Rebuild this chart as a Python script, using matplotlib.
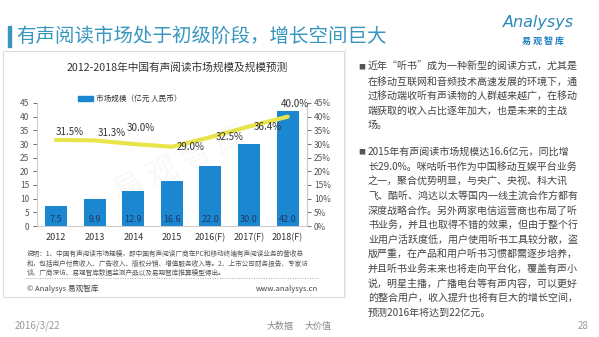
import matplotlib
matplotlib.use('Agg')
import matplotlib.pyplot as plt
from matplotlib.patches import Rectangle
from matplotlib.lines import Line2D

plt.rcParams['font.family'] = ['Noto Sans CJK SC', 'DejaVu Sans']

# data
years = ['2012', '2013', '2014', '2015', '2016(F)', '2017(F)', '2018(F)']
market_size = [7.5, 9.9, 12.9, 16.6, 22.0, 30.0, 42.0]
growth_rate = [31.5, 31.3, 30.0, 29.0, 32.5, 36.4, 40.0]
left_ticks = [0, 5, 10, 15, 20, 25, 30, 35, 40, 45]
right_ticks = [0, 5, 10, 15, 20, 25, 30, 35, 40, 45]

slide_title = '有声阅读市场处于初级阶段，增长空间巨大'
chart_title = '2012-2018年中国有声阅读市场规模及规模预测'
legend_label = '市场规模（亿元 人民币）'
note_lines = [
    '说明：1、中国有声阅读市场规模，即中国有声阅读厂商在PC和移动终端有声阅读业务的营收总',
    '和，包括用户付费收入、广告收入、版权分销、增值服务收入等。2、上市公司财务报告、专家访',
    '谈、厂商深访、易观智库数据监测产品以及易观智库推算模型得出。',
]
bullet1 = [
    '近年“听书”成为一种新型的阅读方式，尤其是',
    '在移动互联网和音频技术高速发展的环境下，通',
    '过移动端收听有声读物的人群越来越广，在移动',
    '端获取的收入占比逐年加大，也是未来的主战',
    '场。',
]
bullet2 = [
    '2015年有声阅读市场规模达16.6亿元，同比增',
    '长29.0%。咪咕听书作为中国移动互娱平台业务',
    '之一，聚合优势明显，与央广、央视、科大讯',
    '飞、酷听、鸿达以太等国内一线主流合作方都有',
    '深度战略合作。另外两家电信运营商也布局了听',
    '书业务，并且也取得不错的效果，但由于整个行',
    '业用户活跃度低，用户使用听书工具较分散，盗',
    '版严重，在产品和用户听书习惯都需逐步培养，',
    '并且听书业务未来也将走向平台化，覆盖有声小',
    '说，明星主播，广播电台等有声内容，可以更好',
    '的整合用户，收入提升也将有巨大的增长空间，',
    '预测2016年将达到22亿元。',
]

W, H = 599, 337
fig = plt.figure(figsize=(W / 100, H / 100), dpi=100)
fig.patch.set_facecolor('white')


def fx(x):
    return x / W


def fy(y):
    return 1 - y / H


# slide title
fig.add_artist(Rectangle((fx(8), fy(47)), 3 / W, 21 / H, color='#3796bd',
                         transform=fig.transFigure))
fig.text(fx(16), fy(36), slide_title, fontsize=14, color='#3796bd', va='center')

# logo
fig.text(fx(538), fy(22), 'Analysys', fontsize=11.5, style='italic',
         color='#2a8ab8', ha='center', va='center', family='DejaVu Sans')
fig.text(fx(543), fy(41), '易 观 智 库', fontsize=6.5, fontweight='bold',
         color='#1a7fc0', ha='center', va='center')

# chart panel
fig.add_artist(Rectangle((fx(3), fy(297)), 341 / W, 246 / H, fill=False,
                         edgecolor='#dddddd', lw=0.8, transform=fig.transFigure))
fig.text(fx(177), fy(67), chart_title, fontsize=7.7, color='#333333',
         ha='center', va='center')

ax = fig.add_axes([fx(36.7), fy(226), 270.3 / W, 123 / H])
x = range(len(years))
ax.bar(x, market_size, width=0.57, color='#1b87d0', label=legend_label, zorder=2)
ax.set_xlim(-0.5, len(years) - 0.5)
ax.set_ylim(0, 45)
ax.set_yticks(left_ticks)
ax.set_xticks(list(x))
ax.set_xticklabels(years, fontsize=6.5, color='#333333', fontweight='light')
ax.tick_params(axis='x', length=0, pad=5)
ax.tick_params(axis='y', labelsize=6, colors='#555555', length=3, width=0.6, pad=2.5)
ax.spines['top'].set_visible(False)
for s in ['left', 'bottom', 'right']:
    ax.spines[s].set_color('#cccccc')
    ax.spines[s].set_linewidth(0.8)
for xi, v in zip(x, market_size):
    ax.text(xi, 0.8, f'{v:.1f}', ha='center', va='bottom', fontsize=6.5, color='#203864')

ax2 = ax.twinx()
ax2.plot(list(x), growth_rate, color='#e8e54a', lw=3, solid_capstyle='round', zorder=3)
ax2.set_ylim(0, 45)
ax2.set_yticks(right_ticks)
ax2.set_yticklabels([f'{t}%' for t in right_ticks])
ax2.tick_params(axis='y', labelsize=6, colors='#555555', length=3, width=0.6, pad=2)
for s in ['top', 'left', 'bottom']:
    ax2.spines[s].set_visible(False)
ax2.spines['right'].set_color('#cccccc')
ax2.spines['right'].set_linewidth(0.8)
label_offsets = [(14, 8), (17, 7), (7, 16), (19, 0), (19, 0), (19, 0), (7, 13)]
for xi, v, off in zip(x, growth_rate, label_offsets):
    ax2.annotate(f'{v:.1f}%', (xi, v), xytext=off, textcoords='offset pixels',
                 ha='center', va='center', fontsize=7, color='#333333')

# legend
fig.add_artist(Rectangle((fx(78), fy(101)), 15 / W, 5 / H, color='#1b87d0',
                         transform=fig.transFigure))
fig.text(fx(96), fy(98.5), legend_label, fontsize=5.5, color='#333333', va='center')

# watermark
fig.text(fx(180), fy(165), '易 观 智 库', fontsize=22, color='#888888', alpha=0.06,
         rotation=25, ha='center', va='center')

# notes
for i, line in enumerate(note_lines):
    fig.text(fx(27), fy(254 + i * 9.5), line, fontsize=4.8, color='#555555', va='center')
fig.add_artist(Line2D([fx(25), fx(318)], [fy(278), fy(278)], color='#aaaaaa', lw=0.7,
                      linestyle=(0, (1, 1.5)), transform=fig.transFigure))
fig.text(fx(27), fy(289), '© Analysys 易观智库', fontsize=5.5, color='#444444', va='center')
fig.text(fx(318), fy(289), 'www.analysys.cn', fontsize=5.5, color='#444444',
         va='center', ha='right')

# right text
fig.add_artist(Line2D([fx(345), fx(345)], [fy(48), fy(297)], color='#eeeeee', lw=0.8,
                      transform=fig.transFigure))
step = 14.6
for start, lines in [(67, bullet1), (152, bullet2)]:
    fig.text(fx(362), fy(start), '■', fontsize=5, color='#555555', va='center', ha='center')
    for i, line in enumerate(lines):
        fig.text(fx(368), fy(start + i * step), line, fontsize=7.2, color='#444444',
                 va='center', fontweight='light')

# footer
fig.text(fx(15), fy(326), '2016/3/22', fontsize=7, color='#999999', va='center')
fig.text(fx(267), fy(326), '大数据', fontsize=6.5, color='#888888', va='center')
fig.text(fx(305), fy(326), '大价值', fontsize=6.5, color='#888888', va='center')
fig.text(fx(578), fy(326), '28', fontsize=7, color='#999999', va='center')

fig.savefig('out.png', dpi=100)
